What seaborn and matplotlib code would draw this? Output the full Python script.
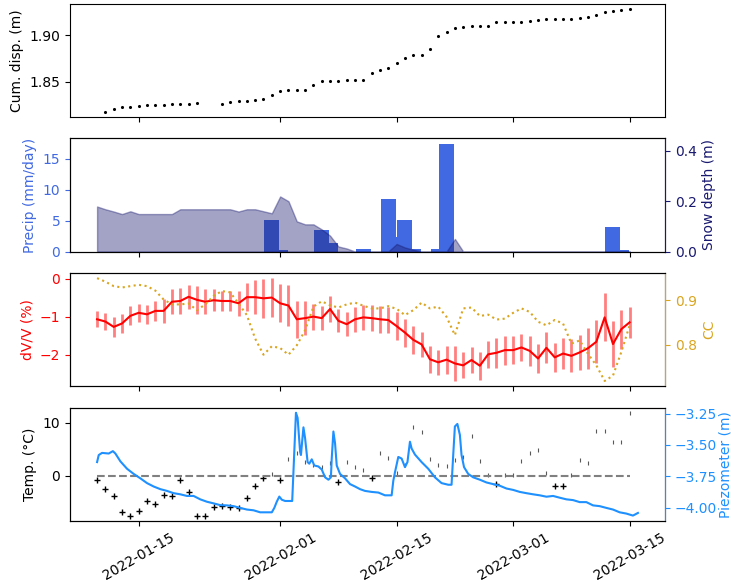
import numpy as np
import pandas as pd
import matplotlib
matplotlib.use("Agg")
import matplotlib.pyplot as plt
import matplotlib.dates as mdates
from matplotlib.ticker import MultipleLocator
import seaborn as sns

# Daily time axis, 10 Jan - 15 Mar 2022
days = pd.date_range("2022-01-10", "2022-03-15", freq="D")

# Cumulative displacement (m); NaN where there is no daily solution
disp_m = [np.nan,
          1.8176, 1.8202, 1.8227, 1.8223, 1.8238, 1.8245, 1.8245, 1.8252, 1.8262, 1.8262, 1.8259, 1.8266,
          np.nan, np.nan,
          1.8259, 1.8281, 1.8288, 1.8288, 1.8299, 1.8313, 1.8360,
          1.8403, 1.8410, 1.8410, 1.8406, 1.8461, 1.8504, 1.8504, 1.8504, 1.8522, 1.8520, 1.8520, 1.8597, 1.8626, 1.8645,
          1.8702, 1.8752, 1.8788, 1.8788, 1.8850, 1.8990, 1.9033, 1.9072, 1.9087, 1.9094, 1.9098, 1.9098, 1.9137, 1.9137,
          1.9137, 1.9141, 1.9152, 1.9166, 1.9170, 1.9174, 1.9174, 1.9170, 1.9184, 1.9198, 1.9217, 1.9250, 1.9260, 1.9267, 1.9282]

# Daily precipitation (mm/day), wet days only
precip_dates = ["2022-01-31", "2022-02-01", "2022-02-06", "2022-02-07", "2022-02-11", "2022-02-14",
                "2022-02-15", "2022-02-16", "2022-02-17", "2022-02-20", "2022-02-21", "2022-03-13", "2022-03-14"]
precip_mm = [5.1, 0.3, 3.4, 1.3, 0.4, 8.5, 2.3, 5.1, 0.35, 0.4, 17.4, 3.9, 0.3]

# Snow depth (m)
snow_m = [0.179, 0.168, 0.159, 0.149, 0.160, 0.149, 0.149, 0.149, 0.149, 0.149, 0.168, 0.168, 0.168, 0.168,
          0.168, 0.168, 0.168, 0.159, 0.168, 0.168, 0.160, 0.152,
          0.219, 0.200, 0.120, 0.108, 0.108, 0.088, 0.063, 0.020, 0.012, 0.0, 0.0, 0.0, 0.0, 0.0,
          0.030, 0.016, 0.007, 0.0, 0.0, 0.0, 0.0, 0.050, 0.0, 0.0, 0.0, 0.0, 0.0, 0.0,
          0.0, 0.0, 0.0, 0.0, 0.0, 0.0, 0.0, 0.0, 0.0, 0.0, 0.0, 0.0, 0.0, 0.0, 0.0]

# Relative velocity change dV/V (%) and its uncertainty
dvv = [-1.07, -1.13, -1.27, -1.18, -0.98, -0.90, -0.94, -0.85, -0.85, -0.61, -0.59, -0.48, -0.56, -0.61,
       -0.57, -0.59, -0.59, -0.65, -0.49, -0.49, -0.52, -0.50,
       -0.65, -0.71, -1.07, -1.04, -1.00, -1.04, -0.80, -1.11, -1.20, -1.07, -1.02, -1.04, -1.07, -1.09,
       -1.25, -1.42, -1.61, -1.73, -2.12, -2.20, -2.13, -2.23, -2.28, -2.14, -2.29, -1.99, -1.95, -1.88,
       -1.88, -1.81, -1.90, -2.10, -1.82, -2.07, -1.97, -2.03, -1.94, -1.83, -1.66, -1.02, -1.72, -1.33, -1.15]
dvv_err = [0.21, 0.22, 0.26, 0.25, 0.25, 0.24, 0.25, 0.27, 0.32, 0.33, 0.33, 0.32, 0.36, 0.33,
           0.29, 0.27, 0.27, 0.33, 0.36, 0.44, 0.52, 0.51,
           0.50, 0.54, 0.48, 0.45, 0.34, 0.32, 0.33, 0.30, 0.32, 0.33, 0.32, 0.34, 0.35, 0.35,
           0.37, 0.37, 0.36, 0.32, 0.36, 0.33, 0.37, 0.46, 0.34, 0.34, 0.37, 0.36, 0.39, 0.38,
           0.37, 0.35, 0.39, 0.37, 0.41, 0.39, 0.40, 0.43, 0.46, 0.54, 0.56, 0.63, 0.61, 0.51, 0.40]

# Correlation coefficient
cc = [0.950, 0.942, 0.932, 0.929, 0.932, 0.935, 0.932, 0.922, 0.902, 0.891, 0.891, 0.893, 0.878, 0.891,
      0.910, 0.921, 0.918, 0.893, 0.867, 0.814, 0.778, 0.797,
      0.793, 0.778, 0.799, 0.833, 0.886, 0.898, 0.889, 0.884, 0.891, 0.895, 0.888, 0.882, 0.882, 0.887,
      0.881, 0.867, 0.878, 0.895, 0.882, 0.886, 0.863, 0.822, 0.882, 0.884, 0.865, 0.868, 0.857, 0.859,
      0.872, 0.882, 0.874, 0.852, 0.844, 0.856, 0.848, 0.803, 0.810, 0.780, 0.754, 0.719, 0.731, 0.784, 0.844]

# Daily air temperature (degC)
temp_c = [-0.76, -2.5, -3.8, -6.9, -7.5, -6.6, -4.7, -5.4, -3.7, -3.8, -0.76, -3.1, -7.5, -7.5,
          -5.95, -5.75, -5.9, -6.1, -4.1, -1.84, -0.44, 0.3,
          -0.76, 3.2, 4.35, 2.65, 2.0, 1.6, 2.45, -1.1, 2.65, 1.7, 1.14, -0.32, 4.4, 3.3,
          0.6, 2.0, 9.3, 8.3, 3.2, 1.96, 1.77, 3.04, 3.5, 7.5, 2.8, 0.1, -1.5, 0.1,
          0.1, 2.85, 4.35, 4.8, 0.5, -1.9, -1.9, 0.19, 3.04, 2.4, 8.55, 8.55, 6.32, 6.35, 11.9]

# Piezometric level (m), time in days since 10 Jan 2022
piezo_days = [0.0, 0.2, 0.6, 1.4, 1.9, 2.2, 2.8, 3.6, 4.4, 5.2, 6.0, 6.8, 7.6, 8.4, 9.2, 10.0, 10.8, 11.6,
              12.4, 13.2, 14.0, 14.8, 15.6, 16.4, 17.2, 18.0, 18.8, 19.6, 20.4, 21.0, 21.3, 21.6, 21.9,
              22.2, 22.6, 23.0, 23.45, 23.9, 24.1, 24.4, 24.5, 24.8, 25.0, 25.3, 25.5, 25.8, 26.1, 26.6,
              27.0, 27.4, 27.8, 28.1, 28.2, 28.4, 28.6, 28.8, 29.2, 29.8, 30.4, 31.0, 31.6, 32.2, 33.0,
              33.8, 34.6, 35.4, 35.6, 35.8, 36.2, 36.6, 37.0, 37.3, 37.6, 37.8, 38.2, 39.0, 39.8, 40.6,
              41.4, 42.2, 42.6, 42.8, 43.0, 43.3, 43.6, 43.8, 44.1, 44.6, 45.2, 46.0, 46.8, 47.6, 48.4,
              49.2, 50.0, 50.8, 51.6, 52.4, 53.2, 54.0, 54.8, 55.6, 56.4, 57.2, 58.0, 58.8, 59.6, 60.4,
              61.2, 62.0, 62.8, 63.6, 64.4, 65.0]
piezo_m = [-3.636, -3.580, -3.563, -3.568, -3.549, -3.568, -3.630, -3.689, -3.730, -3.765, -3.803, -3.830,
           -3.851, -3.865, -3.883, -3.892, -3.905, -3.905, -3.932, -3.951, -3.964, -3.978, -3.980, -3.986,
           -4.000, -4.013, -4.019, -4.035, -4.035, -4.035, -4.000, -3.950, -3.910,
           -3.935, -3.945, -3.945, -3.945, -3.244, -3.285, -3.555, -3.580, -3.360, -3.447, -3.636, -3.649,
           -3.614, -3.663, -3.671, -3.695, -3.757, -3.776, -3.757, -3.608, -3.393, -3.487, -3.663, -3.730,
           -3.765, -3.811, -3.830, -3.851, -3.865, -3.873, -3.878, -3.900, -3.900, -3.784, -3.717, -3.595,
           -3.608, -3.676, -3.636, -3.474, -3.528, -3.576, -3.636, -3.689, -3.757, -3.803, -3.816, -3.816,
           -3.580, -3.353, -3.333, -3.420, -3.580, -3.676, -3.730, -3.757, -3.776, -3.798, -3.811, -3.824,
           -3.846, -3.857, -3.873, -3.883, -3.892, -3.900, -3.911, -3.905, -3.919, -3.932, -3.938, -3.954,
           -3.954, -3.980, -3.986, -4.000, -4.013, -4.035, -4.045, -4.061, -4.040]

temp_arr = np.array(temp_c)
piezo_time = pd.Timestamp("2022-01-10") + pd.to_timedelta(piezo_days, unit="D")

fig, axes = plt.subplots(4, 1, figsize=(7.31, 5.8), dpi=100, sharex=True)
fig.subplots_adjust(left=0.0958, right=0.9097, top=0.9935, bottom=0.1022, hspace=0.19)
ax1, ax2, ax3, ax4 = axes

# --- cumulative displacement
sns.scatterplot(x=days, y=disp_m, ax=ax1, color="black", s=5, linewidth=0)
ax1.set_ylabel("Cum. disp. (m)")
ax1.yaxis.set_major_locator(MultipleLocator(0.05))

# --- precipitation and snow depth
ax2.bar(pd.to_datetime(precip_dates), precip_mm, width=1.8, color="royalblue")
ax2.set_ylabel("Precip (mm/day)", color="royalblue")
ax2.tick_params(axis="y", colors="royalblue")
ax2.yaxis.set_major_locator(MultipleLocator(5))
ax2s = ax2.twinx()
ax2s.fill_between(days, snow_m, color="midnightblue", alpha=0.4)
ax2s.set_ylim(0, 0.45)
ax2s.yaxis.set_major_locator(MultipleLocator(0.2))
ax2s.set_ylabel("Snow depth (m)", color="midnightblue")
ax2s.tick_params(axis="y", colors="midnightblue")
ax2s.spines["right"].set_color("midnightblue")

# --- dV/V and CC
ax3.errorbar(days, dvv, yerr=dvv_err, fmt="none", ecolor="red", alpha=0.5, elinewidth=2)
sns.lineplot(x=days, y=dvv, ax=ax3, color="red", lw=1.5)
ax3.set_ylabel("dV/V (%)", color="red")
ax3.tick_params(axis="y", colors="red")
ax3.yaxis.set_major_locator(MultipleLocator(1))
ax3c = ax3.twinx()
sns.lineplot(x=days, y=cc, ax=ax3c, color="goldenrod", lw=1.5, linestyle=":")
ax3c.set_ylabel("CC", color="goldenrod")
ax3c.tick_params(axis="y", colors="goldenrod")
ax3c.yaxis.set_major_locator(MultipleLocator(0.1))
ax3c.spines["right"].set_color("goldenrod")

# --- temperature and piezometer
cold = temp_arr < 0
sns.scatterplot(x=days[cold], y=temp_arr[cold], ax=ax4, marker="+", color="black", s=14, linewidth=1)
sns.scatterplot(x=days[~cold], y=temp_arr[~cold], ax=ax4, marker="|", color="0.35", s=6, linewidth=0.8)
ax4.plot(days, np.zeros(len(days)), "--", color="grey", lw=1.5)
ax4.set_ylabel("Temp. (°C)")
ax4.yaxis.set_major_locator(MultipleLocator(10))
ax4p = ax4.twinx()
sns.lineplot(x=piezo_time, y=piezo_m, ax=ax4p, color="dodgerblue", lw=1.5)
ax4p.set_ylabel("Piezometer (m)", color="dodgerblue", labelpad=1)
ax4p.tick_params(axis="y", colors="dodgerblue")
ax4p.yaxis.set_major_locator(MultipleLocator(0.25))
ax4p.spines["right"].set_color("dodgerblue")

ax4.xaxis.set_major_locator(mdates.DayLocator(bymonthday=[1, 15]))
ax4.xaxis.set_major_formatter(mdates.DateFormatter("%Y-%m-%d"))
ax4.tick_params(axis="x", labelrotation=30)
for a in axes:
    a.set_xlabel("")

fig.savefig("out.png", dpi=100)
